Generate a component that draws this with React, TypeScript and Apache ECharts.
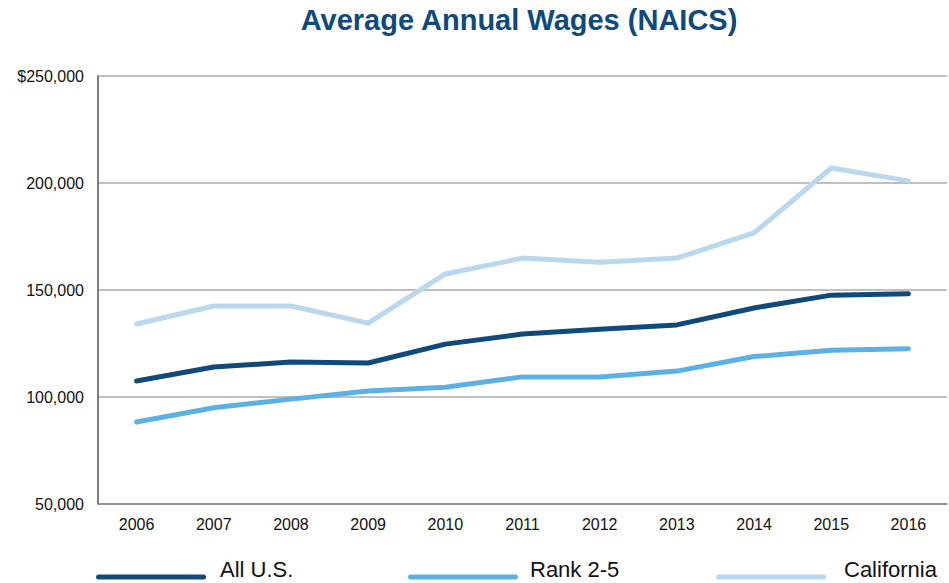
import React, { useEffect, useRef } from "react";
import * as echarts from "echarts";

const years = ["2006", "2007", "2008", "2009", "2010", "2011", "2012", "2013", "2014", "2015", "2016"];
const allUS = [107500, 114000, 116300, 115900, 124700, 129400, 131700, 133700, 141600, 147600, 148200];
const rank25 = [88300, 95000, 99000, 102800, 104600, 109400, 109400, 112100, 118900, 121800, 122600];
const california = [134100, 142500, 142500, 134500, 157500, 164900, 163000, 164900, 176700, 207000, 201000];
const seriesNames = ["All U.S.", "Rank 2-5", "California"];
const colors = ["#0f4a7b", "#5cb1e4", "#b9d8ee"];

export default function App() {
  const ref = useRef<HTMLDivElement>(null);
  useEffect(() => {
    if (!ref.current) return;
    const chart = echarts.init(ref.current, undefined, { renderer: "svg" });
    const datasets = [allUS, rank25, california];
    const font = "'Liberation Sans', Arial, sans-serif";
    const legendX = [96, 408, 716];
    const legendTextX = [220, 530, 844];
    const legendGraphics: any[] = [];
    seriesNames.forEach((n, i) => {
      legendGraphics.push({
        type: "line",
        shape: { x1: legendX[i] + 2.5, y1: 577, x2: legendX[i] + 107.5, y2: 577 },
        style: { stroke: colors[i], lineWidth: 5, lineCap: "round" },
      });
      legendGraphics.push({
        type: "text",
        x: legendTextX[i],
        y: 569,
        style: { text: n, fill: "#111", font: `22px ${font}`, textVerticalAlign: "middle" },
      });
    });
    chart.setOption({
      animation: false,
      title: {
        text: "Average Annual Wages (NAICS)",
        left: 514,
        textAlign: "center",
        top: 0,
        textStyle: { color: "#0f4a7b", fontSize: 29, fontWeight: "bold", fontFamily: font },
      },
      grid: { left: 98, right: 2, top: 76, bottom: 79, containLabel: false },
      xAxis: {
        type: "category",
        data: years,
        boundaryGap: true,
        axisLine: { lineStyle: { color: "#888", width: 1.5 } },
        axisTick: { inside: true, length: 13, lineStyle: { color: "#555", width: 1 } },
        axisLabel: { color: "#111", fontSize: 16, fontFamily: font, margin: 12 },
      },
      yAxis: {
        type: "value",
        min: 50000,
        max: 250000,
        interval: 50000,
        axisLine: { show: true, lineStyle: { color: "#555", width: 1.5 } },
        axisTick: { show: false },
        splitLine: { lineStyle: { color: "#aaa", width: 1.5 } },
        axisLabel: {
          color: "#111",
          fontSize: 16,
          fontFamily: font,
          margin: 14,
          formatter: (v: number) => {
            const s = v.toLocaleString("en-US");
            return v === 250000 ? "$" + s : s;
          },
        },
      },
      series: datasets.map((d, i) => ({
        name: seriesNames[i],
        type: "line",
        data: d,
        symbol: "none",
        z: 3 - i,
        lineStyle: { color: colors[i], width: 5, cap: "round", join: "round" },
      })),
      graphic: legendGraphics,
    });
    return () => chart.dispose();
  }, []);
  return <div ref={ref} style={{ width: 949, height: 583, position: "absolute", left: 0, top: 0 }} />;
}
